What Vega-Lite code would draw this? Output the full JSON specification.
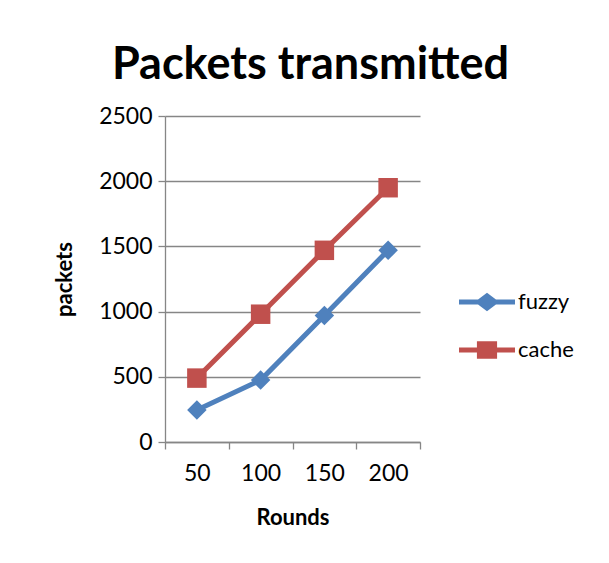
{
  "$schema": "https://vega.github.io/schema/vega-lite/v6.json",
  "width": 255,
  "height": 326,
  "autosize": "none",
  "padding": {"left": 165, "top": 116, "right": 189, "bottom": 121},
  "background": "white",
  "config": {
    "font": "Lato",
    "view": {"stroke": null},
    "axis": {"domainColor": "#868686", "tickColor": "#868686", "gridColor": "#868686", "gridOpacity": 1, "labelColor": "black", "titleColor": "black", "labelFont": "Lato", "titleFont": "Lato"},
    "legend": {"title": null, "orient": "none", "symbolSize": 3136, "symbolOpacity": 1, "symbolStrokeWidth": 0, "labelFontSize": 22, "labelFont": "Lato", "labelColor": "black", "labelOffset": 3}
  },
  "title": {"text": "Packets transmitted", "font": "Lato", "fontSize": 45, "fontWeight": "bold", "color": "black", "anchor": "middle", "dx": 18, "offset": 17},
  "data": {"values": [
    {"Rounds": "50", "series": "fuzzy", "packets": 245},
    {"Rounds": "100", "series": "fuzzy", "packets": 475},
    {"Rounds": "150", "series": "fuzzy", "packets": 970},
    {"Rounds": "200", "series": "fuzzy", "packets": 1470},
    {"Rounds": "50", "series": "cache", "packets": 490},
    {"Rounds": "100", "series": "cache", "packets": 980},
    {"Rounds": "150", "series": "cache", "packets": 1470},
    {"Rounds": "200", "series": "cache", "packets": 1950}
  ]},
  "encoding": {
    "x": {"field": "Rounds", "type": "ordinal", "sort": ["50", "100", "150", "200"],
      "scale": {"type": "band", "paddingInner": 0, "paddingOuter": 0},
      "axis": {"title": "Rounds", "titleFontSize": 22, "titleFontWeight": "bold", "labelFontSize": 23, "labelAngle": 0, "tickBand": "extent", "tickSize": 7, "labelPadding": 13, "titlePadding": 22, "domainWidth": 1.3, "tickWidth": 1.3}},
    "y": {"field": "packets", "type": "quantitative",
      "scale": {"domain": [0, 2500], "nice": false},
      "axis": {"title": "packets", "titleFontSize": 22, "titleFontWeight": "bold", "labelFontSize": 23, "format": "d", "values": [0, 500, 1000, 1500, 2000, 2500], "tickSize": 7, "labelPadding": 6, "titlePadding": 22, "grid": true, "gridWidth": 1.3, "domainWidth": 1.3, "tickWidth": 1.3}}
  },
  "layer": [
    {
      "mark": {"type": "line", "strokeWidth": 5},
      "encoding": {
        "color": {"field": "series", "type": "nominal", "scale": {"domain": ["fuzzy", "cache"], "range": ["#4F81BD", "#C0504D"]}, "legend": null}
      }
    },
    {
      "mark": {"type": "point", "filled": true, "opacity": 1},
      "encoding": {
        "color": {"field": "series", "type": "nominal", "legend": null},
        "shape": {"field": "series", "type": "nominal", "scale": {"domain": ["fuzzy", "cache"], "range": ["diamond", "square"]}, "legend": null},
        "size": {"value": 380}
      }
    },
    {
      "transform": [{"filter": "datum.series === 'fuzzy'"}],
      "mark": {"type": "point", "filled": true, "opacity": 0, "color": "#4F81BD"},
      "encoding": {
        "shape": {"field": "series", "type": "nominal",
          "scale": {"domain": ["fuzzy"], "range": ["M-1,-0.09 L-0.32,-0.09 L0,-0.33 L0.32,-0.09 L1,-0.09 L1,0.09 L0.32,0.09 L0,0.33 L-0.32,0.09 L-1,0.09 Z"]},
          "legend": {"legendX": 294, "legendY": 158}}
      }
    },
    {
      "transform": [{"filter": "datum.series === 'cache'"}],
      "mark": {"type": "point", "filled": true, "opacity": 0, "color": "#C0504D"},
      "encoding": {
        "shape": {"field": "series", "type": "nominal",
          "scale": {"domain": ["cache"], "range": ["M-1,-0.09 L-0.36,-0.09 L-0.36,-0.31 L0.36,-0.31 L0.36,-0.09 L1,-0.09 L1,0.09 L0.36,0.09 L0.36,0.31 L-0.36,0.31 L-0.36,0.09 L-1,0.09 Z"]},
          "legend": {"legendX": 294, "legendY": 206}}
      }
    }
  ],
  "resolve": {"scale": {"shape": "independent"}}
}
